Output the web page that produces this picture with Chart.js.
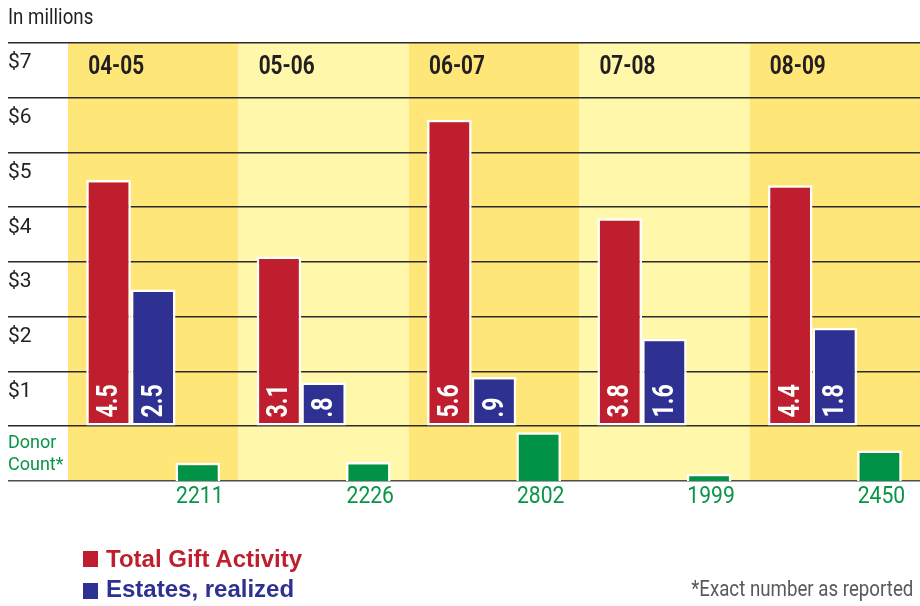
<!DOCTYPE html>
<html>
<head>
<meta charset="utf-8">
<script src="https://cdn.jsdelivr.net/npm/chart.js@4.4.1/dist/chart.umd.min.js"></script>
<style>
body { margin: 0; background: #fff; }
#wrap { position: relative; width: 920px; height: 606px; }
.txt { position: absolute; font-family: Roboto, sans-serif; font-size: 22px; line-height: 22px; white-space: nowrap; transform: scaleX(0.85); }
.key { position: absolute; left: 106px; font-family: "Liberation Sans", Arial, sans-serif; font-weight: bold; font-size: 24px; line-height: 24px; white-space: nowrap; }
.sq { position: absolute; left: 83px; width: 15px; height: 16px; }
</style>
</head>
<body>
<div id="wrap">
  <canvas id="giftChart"></canvas>
  <div class="txt" style="left:8px; top:6px; color:#231f20; transform-origin:left center;">In millions</div>
  <span class="sq" style="top:551px; background:#be1e2d;"></span>
  <div class="key" style="top:547px; color:#be1e2d;">Total Gift Activity</div>
  <span class="sq" style="top:583px; background:#2e3192;"></span>
  <div class="key" style="top:577px; color:#2e3192;">Estates, realized</div>
  <div class="txt" style="right:7px; top:578px; color:#58595b; transform-origin:right center;">*Exact number as reported</div>
</div>
<script>
// DATA
const years = ["04-05", "05-06", "06-07", "07-08", "08-09"];
const totalGift = [4.5, 3.1, 5.6, 3.8, 4.4];
const estates = [2.5, 0.8, 0.9, 1.6, 1.8];
const donorCount = [2211, 2226, 2802, 1999, 2450];
const dollarTicks = [0, 1, 2, 3, 4, 5, 6, 7];
const donorMin = 1860;
const donorMax = 2920;

const FONT = "Roboto, sans-serif";
const RED = "#be1e2d", BLUE = "#2e3192", GREEN = "#009245", GREEN_TXT = "#0a9447";
const bandColors = ["#ffe678", "#fff7aa"];

// squeeze canvas text sideways, the original type is condensed
function narrowText(ctx, txt, x, y, sx, angle) {
    ctx.save();
    ctx.translate(x, y);
    if (angle) ctx.rotate(angle);
    ctx.scale(sx, 1);
    ctx.fillText(txt, 0, 0);
    ctx.restore();
}

// yellow column bands behind grid
const bands = {
    id: "bands",
    beforeDraw(chart) {
        let ctx = chart.ctx, area = chart.chartArea, x = chart.scales.x;
        let w = area.width / years.length;
        ctx.save();
        years.forEach((y, i) => {
            ctx.fillStyle = bandColors[i % 2];
            let left = x.getPixelForValue(i) - w / 2;
            ctx.fillRect(left, area.top, w, area.bottom - area.top);
        });
        ctx.restore();
    }
};

// value labels, year labels, donor counts
const labels = {
    id: "labels",
    afterDatasetsDraw(chart) {
        let ctx = chart.ctx;
        ctx.save();
        ctx.fillStyle = "#fff";
        ctx.font = "bold 30px " + FONT;
        ctx.textAlign = "left";
        ctx.textBaseline = "middle";
        [0, 1].forEach(d => {
            chart.getDatasetMeta(d).data.forEach((bar, i) => {
                let v = chart.data.datasets[d].data[i];
                let txt = v < 1 ? String(v).replace(/^0/, "") : String(v);
                narrowText(ctx, txt, bar.x + 1, bar.base - 8, 0.77, -Math.PI / 2);
            });
        });

        ctx.fillStyle = "#231f20";
        ctx.font = "bold 26px " + FONT;
        chart.getDatasetMeta(0).data.forEach((bar, i) => {
            narrowText(ctx, years[i], bar.x - bar.width / 2 + 2, 67, 0.8);
        });

        ctx.fillStyle = GREEN_TXT;
        ctx.font = "24px " + FONT;
        ctx.textAlign = "center";
        chart.getDatasetMeta(2).data.forEach((bar, i) => {
            narrowText(ctx, String(donorCount[i]), bar.x + 2, 497, 0.88);
        });
        ctx.restore();
    }
};

new Chart(document.getElementById("giftChart"), {
    type: "bar",
    data: {
        labels: years,
        datasets: [
            {label: "Total Gift Activity", data: totalGift, backgroundColor: RED, yAxisID: "y"},
            {label: "Estates, realized", data: estates, backgroundColor: BLUE, yAxisID: "y"},
            {label: "Donor Count", data: donorCount, backgroundColor: GREEN, yAxisID: "y2", borderSkipped: "bottom"}
        ]
    },
    options: {
        responsive: true,
        maintainAspectRatio: false,
        animation: false,
        layout: {padding: {top: 43, left: 8, right: 0, bottom: 125}},
        datasets: {
            bar: {categoryPercentage: 0.786, barPercentage: 1, borderColor: "#fff", borderWidth: 2.5, borderSkipped: false}
        },
        plugins: {legend: {display: false}, tooltip: {enabled: false}},
        scales: {
            x: {display: false},
            y: {
                position: "left", stack: "main", stackWeight: 7, weight: 2,
                min: dollarTicks[0], max: dollarTicks[dollarTicks.length - 1],
                afterFit: s => { s.width = 60; },
                afterBuildTicks: s => { s.ticks = dollarTicks.map(v => ({value: v})); },
                border: {display: false},
                grid: {color: "#2b2b2b", lineWidth: 1.6, tickLength: 60},
                ticks: {
                    autoSkip: false, crossAlign: "far", labelOffset: 20, padding: 0,
                    color: "#231f20", font: {family: FONT, size: 21},
                    callback: v => v === 0 ? "" : "$" + v
                }
            },
            y2: {
                position: "left", stack: "main", stackWeight: 1, weight: 1,
                min: donorMin, max: donorMax,
                afterFit: s => { s.width = 60; },
                afterBuildTicks: s => { s.ticks = [{value: donorMin}, {value: donorMax}]; },
                border: {display: false},
                grid: {
                    lineWidth: 1.6, tickLength: 60,
                    color: c => c.tick && c.tick.value === donorMin ? "#4d4d4d" : "rgba(0,0,0,0)"
                },
                ticks: {
                    autoSkip: false, crossAlign: "far", labelOffset: 28, padding: 0,
                    color: GREEN_TXT, font: {family: FONT, size: 18, lineHeight: 1.2},
                    callback: v => v === donorMax ? ["Donor", "Count*"] : ""
                }
            }
        }
    },
    plugins: [bands, labels]
});
</script>
</body>
</html>
